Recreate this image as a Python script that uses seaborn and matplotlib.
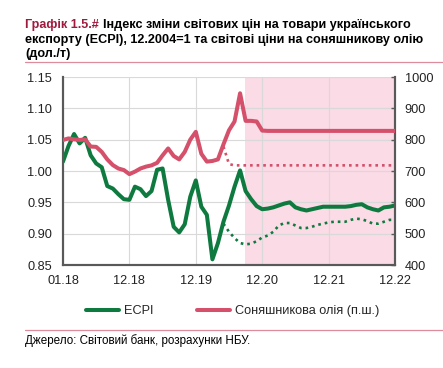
import numpy as np
import pandas as pd
import matplotlib
matplotlib.use("Agg")
import matplotlib.pyplot as plt
import seaborn as sns
from matplotlib.lines import Line2D

# ---------------- data ----------------
tick_labels = ["01.18", "12.18", "12.19", "12.20", "12.21", "12.22"]
tick_pos = [0, 12, 24, 36, 48, 60]

ecpi = [1.015, 1.040, 1.059, 1.044, 1.053, 1.025, 1.012, 1.006, 0.976, 0.972,
        0.963, 0.955, 0.954, 0.975, 0.971, 0.960, 0.968, 1.002, 1.004, 0.954,
        0.911, 0.902, 0.915, 0.959, 0.985, 0.943, 0.930, 0.859, 0.885, 0.919,
        0.945, 0.975, 1.001, 0.968, 0.955, 0.944, 0.939, 0.940, 0.942, 0.945,
        0.948, 0.950, 0.942, 0.939, 0.937, 0.939, 0.941, 0.943, 0.943, 0.943,
        0.943, 0.943, 0.944, 0.946, 0.947, 0.942, 0.939, 0.937, 0.942, 0.943,
        0.945]

ecpi_alt_start = 29
ecpi_alt = [0.916, 0.903, 0.893, 0.885, 0.883, 0.884, 0.888, 0.894, 0.897, 0.903,
            0.913, 0.917, 0.917, 0.913, 0.909, 0.909, 0.911, 0.914, 0.916, 0.918,
            0.919, 0.919, 0.919, 0.922, 0.924, 0.923, 0.920, 0.916, 0.916, 0.919,
            0.922, 0.922]

oil = [799, 804, 801, 799, 801, 778, 777, 761, 737, 719,
       708, 703, 690, 698, 708, 714, 718, 726, 750, 772,
       748, 737, 761, 800, 825, 755, 730, 732, 737, 785,
       830, 858, 948, 860, 860, 858, 829, 828, 828, 828,
       828, 828, 828, 828, 828, 828, 828, 828, 828, 828,
       828, 828, 828, 828, 828, 828, 828, 828, 828, 828,
       828]

oil_alt_start = 29
oil_alt = [778, 722, 718, 718, 718, 718, 718, 718, 718, 718,
           718, 718, 718, 718, 718, 718, 718, 718, 718, 718,
           718, 718, 718, 718, 718, 718, 718, 718, 718, 718,
           718, 718]

forecast_start = 32.9

# ---------------- style ----------------
sns.set_style("white")
plt.rcParams["font.family"] = ["Liberation Sans", "DejaVu Sans"]

GREEN = "#0f7a3f"
RED = "#d5506a"
PINK = "#fadbe6"
SPINE = "#595959"
GRID = "#d9d9d9"
TITLE_RED = "#9e1b3e"

fig = plt.figure(figsize=(4.43, 3.68), dpi=100)
ax = fig.add_axes([63 / 443, 1 - 265 / 368, (395 - 63) / 443, (265 - 77) / 368])
ax2 = ax.twinx()

df = pd.DataFrame({"x": np.arange(len(ecpi)), "ecpi": ecpi, "oil": oil})
df_e = pd.DataFrame({"x": np.arange(ecpi_alt_start, ecpi_alt_start + len(ecpi_alt)), "v": ecpi_alt})
df_o = pd.DataFrame({"x": np.arange(oil_alt_start, oil_alt_start + len(oil_alt)), "v": oil_alt})

ax.axvspan(forecast_start, 60, color=PINK, lw=0, zorder=0)

sns.lineplot(data=df, x="x", y="ecpi", ax=ax, color=GREEN, lw=2.9, zorder=3)
sns.lineplot(data=df_e, x="x", y="v", ax=ax, color=GREEN, lw=1.9, zorder=3)
ax.lines[-1].set_dashes((1, 1.5))
ax.lines[-1].set_dash_capstyle("butt")

sns.lineplot(data=df, x="x", y="oil", ax=ax2, color=RED, lw=2.9, zorder=3)
sns.lineplot(data=df_o, x="x", y="v", ax=ax2, color=RED, lw=1.9, zorder=3)
ax2.lines[-1].set_dashes((1, 1.5))
ax2.lines[-1].set_dash_capstyle("butt")

ax.set_xlim(0, 60)
ax.set_ylim(0.85, 1.15)
ax2.set_ylim(400, 1000)
ax.set_xticks(tick_pos)
ax.set_xticklabels(tick_labels)
yt = np.arange(0.85, 1.151, 0.05)
ax.set_yticks(yt)
ax.set_yticklabels([f"{v:.2f}" for v in yt])
ax2.set_yticks(np.arange(400, 1001, 100))
for a in (ax, ax2):
    a.set_xlabel("")
    a.set_ylabel("")

ax.grid(True, axis="both", color=GRID, lw=0.8)
ax2.grid(False)

for a in (ax, ax2):
    a.spines["top"].set_visible(False)
    for s in ["left", "right", "bottom"]:
        a.spines[s].set_color(SPINE)
        a.spines[s].set_linewidth(1.5)

ax.tick_params(axis="x", direction="in", length=3, width=1, color=SPINE,
               labelsize=9.2, pad=7, labelcolor="#222222")
ax.tick_params(axis="y", length=0, labelsize=9.2, pad=8, labelcolor="#222222")
ax2.tick_params(axis="y", direction="in", length=3, width=1, color=SPINE,
                labelsize=9.2, pad=7, labelcolor="#222222")

# legend
handles = [Line2D([], [], color=GREEN, lw=2.9),
           Line2D([], [], color=RED, lw=2.9)]
fig.legend(handles, ["ECPI", "Соняшникова олія (п.ш.)"], loc="center",
           bbox_to_anchor=(0.525, 1 - 311 / 368), ncol=2, frameon=False,
           fontsize=9.2, handlelength=2.6, handletextpad=0.35, columnspacing=3.4)

# title
fig.canvas.draw()
renderer = fig.canvas.get_renderer()
TS = 9.1
t1 = fig.text(25 / 443, 1 - 28 / 368, "Графік 1.5.#", color=TITLE_RED,
              fontsize=TS, fontweight="bold", va="baseline", ha="left")
bb = t1.get_window_extent(renderer=renderer)
x_next = (bb.x1 + 4) / fig.bbox.width
fig.text(x_next, 1 - 28 / 368, "Індекс зміни світових цін на товари українського",
         color="black", fontsize=TS, fontweight="bold", va="baseline", ha="left")
fig.text(25 / 443, 1 - 43 / 368,
         "експорту (ECPI), 12.2004=1 та світові ціни на соняшникову олію",
         color="black", fontsize=TS, fontweight="bold", va="baseline", ha="left")
fig.text(25 / 443, 1 - 57 / 368, "(дол./т)", color="black", fontsize=TS,
         fontweight="bold", va="baseline", ha="left")

# separator lines
fig.add_artist(Line2D([25 / 443, 1], [1 - 62 / 368, 1 - 62 / 368],
                      color="#dc8c9c", lw=0.9, transform=fig.transFigure))
fig.add_artist(Line2D([25 / 443, 1], [1 - 330 / 368, 1 - 330 / 368],
                      color="#dc8c9c", lw=0.9, transform=fig.transFigure))

fig.text(25 / 443, 1 - 344 / 368, "Джерело: Світовий банк, розрахунки НБУ.",
         color="black", fontsize=8.4, va="baseline", ha="left")

fig.savefig("out.png", dpi=100)
